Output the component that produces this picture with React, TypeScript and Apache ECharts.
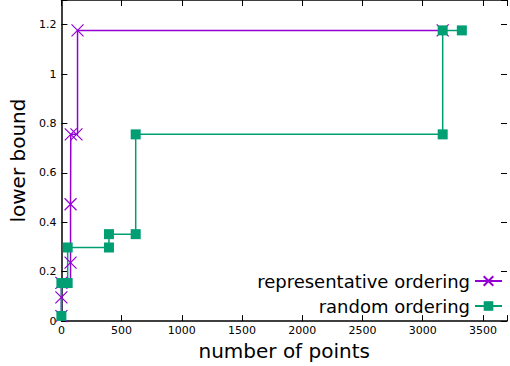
import React, { useEffect, useRef } from "react";
import * as echarts from "echarts";

const repX = [0, 0, 0, 76, 76, 78, 125, 134, 3166];
const repY = [0.02, 0.096, 0.155, 0.237, 0.473, 0.756, 0.756, 1.177, 1.177];
const randX = [0, 0, 52, 52, 395, 395, 617, 617, 3166, 3166, 3325];
const randY = [0.021, 0.154, 0.154, 0.298, 0.298, 0.352, 0.352, 0.756, 0.756, 1.177, 1.177];
const seriesNames = ["representative ordering", "random ordering"];
const xTickStep = 500;
const yTickStep = 0.2;

const FONT = "DejaVu Sans";
const PURPLE = "#9400D3";
const GREEN = "#009E73";

export default function App() {
  const ref = useRef<HTMLDivElement>(null);
  useEffect(() => {
    if (!ref.current) return;
    const chart = echarts.init(ref.current, undefined, { renderer: "svg" });
    const axisLine = { show: true, onZero: false, lineStyle: { color: "#000", width: 1.5 } };
    const tick = { show: true, inside: true, length: 6, lineStyle: { color: "#000", width: 1 } };
    const xBase = { type: "value", min: 0, max: 3700, interval: xTickStep, splitLine: { show: false } };
    const yBase = { type: "value", min: 0, max: 1.3, interval: yTickStep, splitLine: { show: false } };
    chart.setOption({
      animation: false,
      grid: { left: 59, right: 0, top: 0, bottom: 44, containLabel: false },
      legend: {
        orient: "vertical",
        right: 2,
        top: 267,
        align: "right",
        itemWidth: 27,
        itemHeight: 12,
        itemGap: 7,
        data: seriesNames,
        textStyle: { fontFamily: FONT, fontSize: 18, color: "#000", lineHeight: 18 },
      },
      xAxis: [
        {
          ...xBase,
          position: "bottom",
          axisLine,
          axisTick: tick,
          axisLabel: {
            margin: 4,
            fontFamily: FONT,
            fontSize: 11,
            color: "#000",
            formatter: (v: number) => (v % xTickStep === 0 ? String(v) : ""),
          },
          name: "number of points",
          nameLocation: "middle",
          nameGap: 17,
          nameTextStyle: { fontFamily: FONT, fontSize: 20, color: "#000" },
        },
        {
          ...xBase,
          position: "top",
          axisLine,
          axisTick: tick,
          axisLabel: { show: false },
        },
      ],
      yAxis: [
        {
          ...yBase,
          position: "left",
          axisLine,
          axisTick: tick,
          axisLabel: {
            margin: 5,
            fontFamily: FONT,
            fontSize: 11,
            color: "#000",
            formatter: (v: number) => (v > 1.25 ? "" : String(+v.toFixed(1))),
          },
          name: "lower bound",
          nameLocation: "middle",
          nameGap: 26,
          nameTextStyle: { fontFamily: FONT, fontSize: 20, color: "#000" },
        },
        {
          ...yBase,
          position: "right",
          axisLine: { ...axisLine, show: false },
          axisTick: tick,
          axisLabel: { show: false },
        },
      ],
      series: [
        {
          name: seriesNames[0],
          type: "line",
          step: "end",
          data: repX.map((x, i) => [x, repY[i]]),
          symbol: "path://M0,0L10,10M10,0L0,10",
          symbolSize: 12,
          showAllSymbol: true,
          lineStyle: { color: PURPLE, width: 1.5 },
          itemStyle: { color: PURPLE, borderColor: PURPLE, borderWidth: 1.2 },
        },
        {
          name: seriesNames[1],
          type: "line",
          step: "end",
          data: randX.map((x, i) => [x, randY[i]]),
          symbol: "rect",
          symbolSize: 10,
          showAllSymbol: true,
          lineStyle: { color: GREEN, width: 1.5 },
          itemStyle: { color: GREEN, borderWidth: 0 },
        },
      ],
    });
    return () => chart.dispose();
  }, []);
  return <div ref={ref} style={{ width: 510, height: 366, position: "absolute", left: 0, top: 0 }} />;
}
